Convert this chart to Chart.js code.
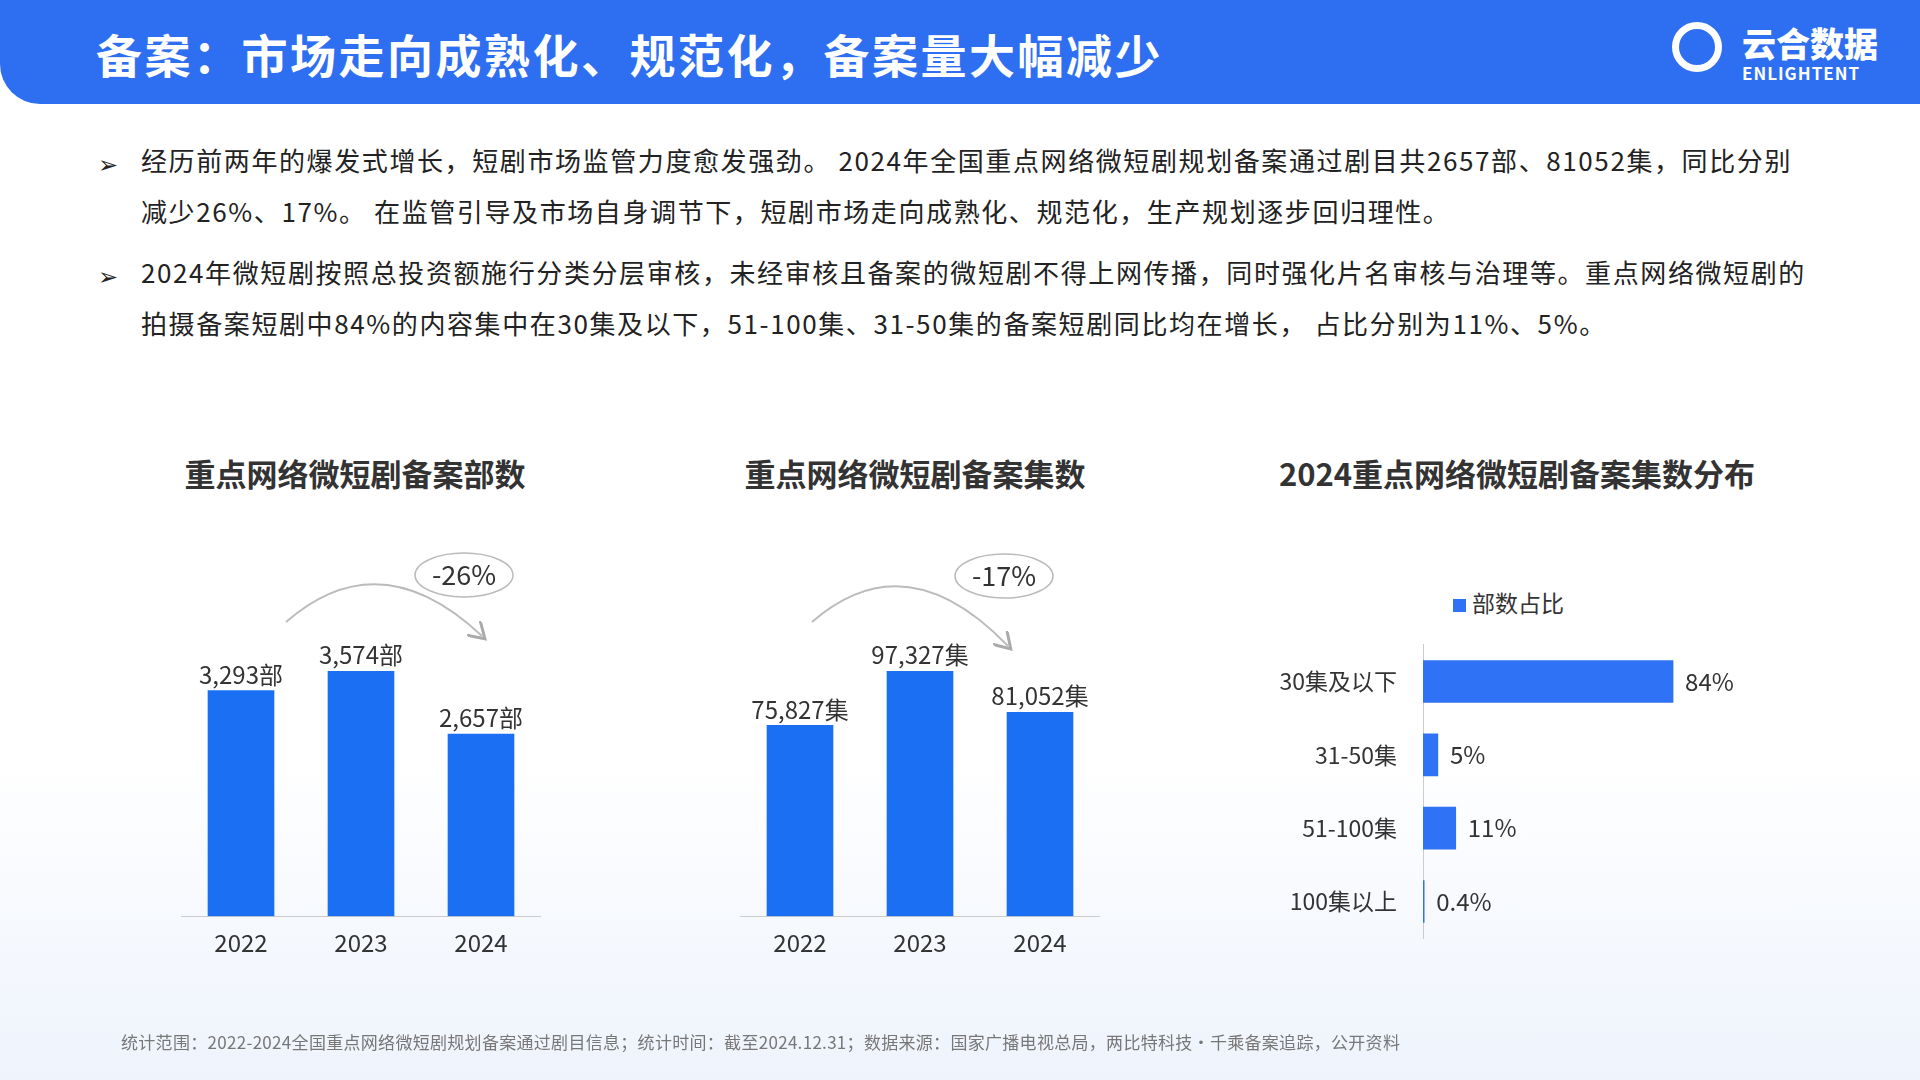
<!DOCTYPE html>
<html><head><meta charset="utf-8">
<script src="https://cdn.jsdelivr.net/npm/chart.js@4"></script>
<style>
body{margin:0;width:1920px;height:1080px;overflow:hidden;font-family:"Noto Sans CJK SC","Noto Sans",sans-serif;background:linear-gradient(#fff 0%,#fff 70%,#eef3fc 100%);position:relative;color:#333}
.hdr{position:absolute;left:0;top:0;width:1920px;height:104px;background:#2e6ff2;border-bottom-left-radius:40px}
.hdr h1{margin:0;position:absolute;left:96px;top:20px;color:#fff;font-size:46px;font-weight:700;letter-spacing:2.5px}
.logo{position:absolute;right:38px;top:18px;color:#fff;text-align:left}
.logo .a{font-size:34px;font-weight:900;position:absolute;left:70px;top:0;white-space:nowrap}
.logo .b{font-size:17px;font-weight:700;position:absolute;left:70px;top:42px;letter-spacing:1px}
.logo .c{position:absolute;left:0;top:4px;width:50px;height:50px;border:7px solid #fff;border-radius:50%;box-sizing:border-box}
.p{position:absolute;left:141px;width:1692px;font-size:26px;line-height:51px;color:#222;letter-spacing:1.6px}
.ar{position:absolute;left:98px;font-size:24px;color:#222}
.t{position:absolute;font-size:31px;font-weight:700;color:#333;text-align:center;width:600px}
.cv{position:absolute}
.ft{position:absolute;left:121px;top:1029px;font-size:17px;color:#777;letter-spacing:0.3px}
.leg{position:absolute;left:1453px;top:585px;font-size:23px;color:#333}
.leg span{display:inline-block;width:13px;height:13px;background:#2f72f5;margin-right:6px}
</style></head><body>
<div class="hdr"><h1>备案：市场走向成熟化、规范化，备案量大幅减少</h1>
<div class="logo" style="width:210px;height:70px"><div class="c"></div><div class="a">云合数据</div><div class="b">ENLIGHTENT</div></div></div>
<div class="ar" style="top:145px">➢</div>
<div class="p" style="top:134px">经历前两年的爆发式增长，短剧市场监管力度愈发强劲。 2024年全国重点网络微短剧规划备案通过剧目共2657部、81052集，同比分别<br>减少26%、17%。 在监管引导及市场自身调节下，短剧市场走向成熟化、规范化，生产规划逐步回归理性。</div>
<div class="ar" style="top:257px">➢</div>
<div class="p" style="top:246px">2024年微短剧按照总投资额施行分类分层审核，未经审核且备案的微短剧不得上网传播，同时强化片名审核与治理等。重点网络微短剧的拍摄备案短剧中84%的内容集中在30集及以下，51-100集、31-50集的备案短剧同比均在增长， 占比分别为11%、5%。</div>
<div class="t" style="left:55px;top:450px">重点网络微短剧备案部数</div>
<div class="t" style="left:615px;top:450px">重点网络微短剧备案集数</div>
<div class="t" style="left:1217px;top:450px">2024重点网络微短剧备案集数分布</div>
<div class="leg"><span></span>部数占比</div>
<div class="cv" style="left:181px;top:601px;width:360px;height:360px"><canvas id="c1"></canvas></div>
<div class="cv" style="left:740px;top:601px;width:360px;height:360px"><canvas id="c2"></canvas></div>
<div class="cv" style="left:1250px;top:613px;width:560px;height:357px"><canvas id="c3"></canvas></div>
<svg style="position:absolute;left:0;top:0" width="1920" height="1080">
<defs><marker id="m" markerWidth="10" markerHeight="10" refX="6" refY="5" orient="auto"><path d="M0,0 L8,5 L0,10" fill="none" stroke="#aaa" stroke-width="1.5"/></marker></defs>
<path d="M286,622 Q380,540 482,636" fill="none" stroke="#bbb" stroke-width="2" marker-end="url(#m)"/>
<ellipse cx="464" cy="575" rx="49" ry="22" fill="#fff" stroke="#bbb" stroke-width="1.5"/>
<text x="464" y="585" font-size="27" text-anchor="middle" fill="#333" font-family="Noto Sans CJK SC">-26%</text>
<path d="M812,622 Q906,540 1008,646" fill="none" stroke="#bbb" stroke-width="2" marker-end="url(#m)"/>
<ellipse cx="1004" cy="576" rx="49" ry="22" fill="#fff" stroke="#bbb" stroke-width="1.5"/>
<text x="1004" y="586" font-size="27" text-anchor="middle" fill="#333" font-family="Noto Sans CJK SC">-17%</text>
</svg>
<div class="ft">统计范围：2022-2024全国重点网络微短剧规划备案通过剧目信息；统计时间：截至2024.12.31；数据来源：国家广播电视总局，两比特科技·千乘备案追踪，公开资料</div>
<script>
const years=["2022","2023","2024"];
const dramaCounts=[3293,3574,2657];
const episodeCounts=[75827,97327,81052];
const distCats=["30集及以下","31-50集","51-100集","100集以上"];
const distShares=[84,5,11,0.4];
const F='"Noto Sans CJK SC","Noto Sans",sans-serif';
const lbl=(fmt)=>({id:'lbl',afterDatasetsDraw(ch){const c=ch.ctx;const m=ch.getDatasetMeta(0);c.save();c.fillStyle='#333';c.font='24px '+F;
 m.data.forEach((b,i)=>{const v=ch.data.datasets[0].data[i];if(ch.options.indexAxis==='y'){c.textAlign='left';c.textBaseline='middle';c.fillText(fmt(v),b.x+12,b.y);}else{c.textAlign='center';c.textBaseline='bottom';c.fillText(fmt(v),b.x,b.y-4);}});c.restore();}});
function vbar(id,data,max,suf){new Chart(document.getElementById(id),{type:'bar',data:{labels:years,datasets:[{data,backgroundColor:'#1a6ff2',barThickness:66}]},
 options:{responsive:true,maintainAspectRatio:false,animation:false,plugins:{legend:{display:false},tooltip:{enabled:false}},layout:{padding:0},
 scales:{x:{grid:{display:false},border:{color:'#ccc'},ticks:{color:'#333',font:{size:24,family:F},padding:4}},y:{display:false,min:0,max}}},
 plugins:[lbl(v=>v.toLocaleString('en-US')+suf)]});}
vbar('c1',dramaCounts,4600,'部');
vbar('c2',episodeCounts,125300,'集');
new Chart(document.getElementById('c3'),{type:'bar',data:{labels:distCats,datasets:[{data:distShares,backgroundColor:'#2f72f5',barThickness:42}]},
 options:{indexAxis:'y',responsive:true,maintainAspectRatio:false,animation:false,plugins:{legend:{display:false},tooltip:{enabled:false}},layout:{padding:0},
 scales:{y:{grid:{display:false},border:{color:'#ccc'},ticks:{color:'#333',font:{size:23,family:F},padding:18},afterFit(a){a.width=173;}},x:{display:false,min:0,max:130}}},
 plugins:[lbl(v=>v+'%')]});
</script></body></html>
